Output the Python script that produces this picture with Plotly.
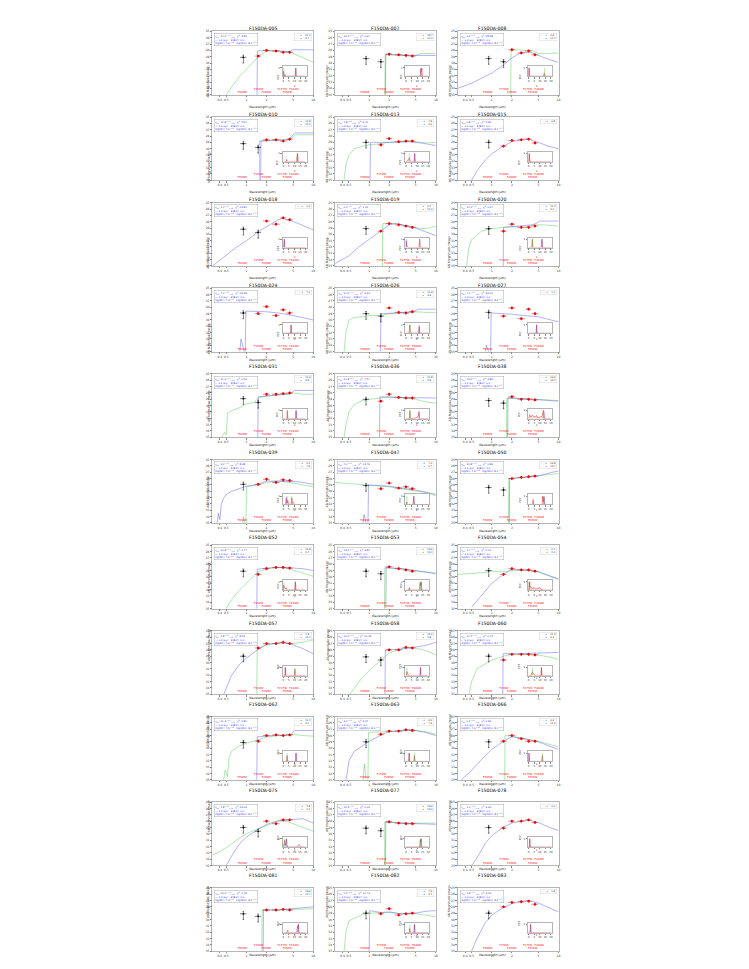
import math
import plotly.graph_objects as go

FIG_W, FIG_H = 749, 969

# ---- data ------------------------------------------------------------------
panel_ids = ['005', '007', '008', '010', '013', '015', '018', '019', '020', '024', '026',
             '027', '031', '036', '038', '039', '047', '050', '052', '053', '054', '057',
             '058', '060', '062', '063', '066', '075', '077', '078', '081', '082', '083']

z_blue = [11.2, 13.4, 0.6, 12.8, 7.8, 0.8, 1.0, 0.2, 12.2, 7.0, 11.9, 7.1, 11.6, 11.8, 13.6, 3.2,
          7.0, 13.8, 10.8, 13.6, 0.7, 1.8, 13.0, 11.5, 11.4, 3.0, 0.3, 2.8, 13.6, 1.0, 13.6, 7.6, 1.8]
z_green = [0.4, 14.0, 14.4, 12.4, 3.0, None, None, 12.3, 3.4, None, 3.6, None, 3.8, 3.8, 13.2, 7.6,
           0.7, 13.7, 0.4, 13.2, 2.0, 10.4, 0.8, 3.3, 3.4, 7.6, 12.3, 1.2, 13.0, None, 12.7, 3.4, None]
chi2 = [3.85, 0.67, 18.58, 5.97, 9.70, 3.95, 24.82, 1.06, 0.67, 24.18, 4.43, 33.11, 0.50, 7.57, 3.89,
        8.38, 13.79, 0.89, 0.77, 3.82, 2.11, 8.53, 11.43, 0.75, 6.80, 6.97, 0.99, 14.06, 1.06, 4.46,
        0.78, 11.73, 3.30]

# filters: F090W F150W F200W F277W F356W F444W
filter_names = ['F090W', 'F150W', 'F200W', 'F277W', 'F356W', 'F444W']
filter_wave = [0.90, 1.50, 2.00, 2.77, 3.56, 4.44]
filter_halfwidth = [0.10, 0.16, 0.23, 0.35, 0.39, 0.50]
filter_label_x = [0.87, 1.53, 1.99, 3.44, 4.10, 5.15]

# black points (F090W, F150W), None = not shown in black
black_mag = [[29.1, None], [29.3, 29.8], [29.3, 29.8], [29.2, 29.8], [29.0, None], [29.0, None],
             [29.2, 29.7], [29.1, None], [29.1, None], [28.9, None], [29.0, 29.4], [28.8, None],
             [28.9, 29.5], [29.0, None], [29.2, 29.6], [28.9, None], [29.1, None], [29.4, 29.8],
             [29.1, None], [29.1, 29.5], [29.0, None], [29.0, None], [29.1, 29.6], [29.0, None],
             [29.1, None], [29.0, None], [29.0, None], [29.0, 29.6], [29.1, 29.5], [29.0, None],
             [29.1, 29.5], [29.0, None], [29.0, None]]

# red points (F150W, F200W, F277W, F356W, F444W)
red_mag = [[28.9, 28.0, 28.1, 28.3, 28.3], [None, 28.6, 28.7, 28.8, 28.9],
           [None, 27.9, 28.4, 28.1, 28.7], [None, 28.6, 28.6, 28.8, 28.5],
           [29.4, 28.4, 28.9, 28.8, 28.8], [29.6, 28.7, 28.6, 28.5, 29.1],
           [None, 27.9, 28.4, 27.4, 27.7], [29.5, 28.3, 28.5, 28.7, 28.9],
           [29.5, 28.4, 28.9, 28.9, 28.7], [29.0, 27.9, 29.3, 28.4, 28.9],
           [None, 28.1, 28.8, 28.9, 28.7], [29.4, 28.1, 29.8, 28.3, 29.0],
           [None, 28.2, 28.2, 28.1, 28.0], [29.3, 28.2, 28.7, 28.8, 28.8],
           [None, 28.6, 29.0, 29.0, 29.1], [28.9, 28.1, 28.6, 28.2, 28.3],
           [29.6, 28.7, 29.5, 29.3, 29.6], [None, 28.0, 27.8, 27.7, 27.6],
           [29.6, 28.7, 28.5, 28.5, 28.6], [None, 28.4, 28.7, 28.9, 29.1],
           [29.6, 28.7, 28.9, 28.9, 29.1], [27.7, 27.0, 27.0, 26.8, 27.0],
           [None, 28.0, 28.0, 27.6, 27.7], [29.6, 28.7, 28.7, 28.7, 28.8],
           [28.9, 28.0, 27.9, 28.0, 27.9], [27.8, 27.3, 27.3, 27.1, 27.2],
           [28.9, 28.0, 28.5, 28.9, 28.9], [None, 28.0, 28.4, 27.8, 27.8],
           [None, 28.1, 28.3, 28.4, 28.4], [29.1, 28.0, 28.0, 27.8, 28.2],
           [None, 28.5, 28.5, 28.4, 28.5], [29.1, 28.3, 29.3, 29.1, 29.0],
           [28.0, 27.3, 27.2, 27.1, 27.6]]

# blue best-fit SED (wavelength um, AB mag)
blue_x = [[1.44, 1.46, 2.0, 3.0, 4.5, 4.8, 5.2, 10],
          [1.76, 1.78, 3, 5, 10],
          [0.31, 0.5, 0.7, 1.0, 1.5, 2.0, 2.5, 3.0, 4.0, 5.0, 7.0, 10],
          [1.63, 1.65, 2.5, 4.3, 5.3, 10],
          [1.03, 1.05, 2, 3, 4, 6, 10],
          [0.5, 0.6, 0.8, 1.0, 1.5, 2, 3, 3.5, 5, 7, 10],
          [0.31, 0.5, 0.7, 1.0, 1.5, 2.0, 3.0, 3.5, 4.5, 6, 8, 10],
          [0.31, 0.5, 0.7, 1.0, 1.5, 2.0, 2.5, 3.5, 5, 7, 10],
          [1.48, 1.5, 2.5, 4.0, 4.6, 5.2, 10],
          [0.78, 0.83, 0.9, 0.96, 0.98, 1.5, 2, 3, 5, 10],
          [1.48, 1.5, 2.5, 4.5, 5.5, 10],
          [0.78, 0.83, 0.9, 0.96, 0.98, 1.5, 2, 3, 5, 10],
          [1.48, 1.5, 2.5, 4.0, 4.6, 5.3, 10],
          [1.43, 1.45, 2.5, 5, 10],
          [1.73, 1.75, 3, 5, 10],
          [0.36, 0.38, 0.4, 0.42, 0.45, 0.5, 0.6, 0.8, 1.0, 1.5, 2, 3, 4, 6, 10],
          [0.79, 0.84, 0.9, 0.96, 0.98, 1.5, 2, 3, 5, 10],
          [1.83, 1.85, 3, 5, 8, 10],
          [1.43, 1.45, 2, 3, 5, 7, 10],
          [1.78, 1.8, 3, 5, 10],
          [0.5, 0.7, 1.0, 1.5, 2, 3, 4, 5, 7, 10],
          [0.45, 0.5, 0.6, 0.8, 1.0, 1.5, 2, 3, 4, 5, 7, 10],
          [1.73, 1.75, 3, 4, 5, 7, 10],
          [1.46, 1.48, 2.5, 5, 10],
          [1.43, 1.45, 2.5, 4.6, 5.3, 10],
          [0.45, 0.5, 0.6, 0.8, 1.0, 1.3, 1.5, 2, 3, 4, 5, 7, 10],
          [0.35, 0.5, 0.7, 1.0, 1.5, 2, 3, 4, 5, 7, 10],
          [0.5, 0.6, 0.8, 1.0, 1.5, 2, 3, 4, 5, 7, 10],
          [1.76, 1.78, 3, 5, 10],
          [0.5, 0.6, 0.8, 1.0, 1.5, 2, 3, 3.5, 5, 7, 10],
          [1.78, 1.8, 3, 5, 10],
          [1.0, 1.02, 1.5, 2, 3, 4, 5, 7, 10],
          [0.5, 0.6, 0.8, 1.0, 1.5, 2, 3, 3.5, 5, 7, 10]]
blue_y = [[36, 28.1, 28.0, 28.1, 28.2, 27.9, 27.9, 27.9],
          [36, 28.6, 28.7, 28.8, 28.8],
          [34.0, 33.2, 32.4, 31.6, 30.3, 29.2, 28.6, 28.3, 28.4, 28.8, 29.4, 29.9],
          [36, 28.8, 28.7, 28.6, 27.5, 27.5],
          [36, 29.0, 29.0, 29.0, 28.9, 29.1, 29.5],
          [35.0, 33.5, 31.8, 30.8, 29.6, 28.9, 28.5, 28.5, 29.0, 29.6, 30.0],
          [35.0, 33.3, 32.1, 31.0, 29.6, 28.8, 27.7, 27.5, 27.8, 28.3, 28.9, 29.3],
          [34.6, 33.4, 32.0, 30.8, 29.5, 28.5, 28.3, 28.6, 29.0, 29.6, 30.2],
          [36, 28.9, 28.7, 28.5, 28.3, 27.9, 27.9],
          [36, 33.0, 34.5, 35.5, 28.6, 28.6, 28.7, 28.9, 29.3, 30.0],
          [36, 29.0, 28.9, 28.7, 28.3, 28.3],
          [36, 34.0, 35.0, 35.5, 28.9, 29.0, 29.1, 29.3, 29.5, 30.3],
          [36, 28.6, 28.4, 28.2, 28.1, 27.6, 27.6],
          [36, 28.6, 28.7, 28.8, 28.8],
          [36, 28.8, 28.9, 29.1, 29.3],
          [35.5, 33.5, 34.5, 32.0, 31.2, 30.5, 30.0, 29.5, 29.2, 28.9, 28.4, 28.4, 28.4, 28.5, 28.9],
          [36, 33.7, 35.0, 36, 29.0, 29.1, 29.2, 29.5, 29.8, 30.5],
          [36, 28.0, 27.8, 27.6, 27.0, 26.8],
          [36, 28.8, 28.6, 28.5, 28.6, 28.7, 29.0],
          [36, 28.5, 28.7, 29.0, 29.5],
          [34.8, 33.0, 31.0, 29.6, 28.8, 28.9, 29.0, 29.2, 29.8, 30.4],
          [35.2, 34.0, 32.0, 30.2, 29.3, 27.9, 27.2, 26.9, 26.9, 27.2, 27.8, 28.6],
          [36, 28.0, 27.9, 27.7, 27.6, 27.3, 26.8],
          [36, 28.6, 28.6, 28.5, 28.4],
          [36, 28.2, 28.0, 27.9, 27.2, 27.2],
          [35.2, 32.0, 30.5, 29.6, 28.9, 28.3, 27.9, 27.4, 27.2, 27.1, 27.2, 27.5, 28.0],
          [35.0, 33.5, 31.8, 30.2, 28.9, 28.2, 28.5, 28.8, 29.0, 29.6, 30.2],
          [35.0, 33.5, 31.5, 30.5, 29.3, 28.5, 27.9, 27.8, 27.8, 27.6, 28.3],
          [36, 28.1, 28.3, 28.4, 28.5],
          [35.0, 33.8, 31.5, 30.3, 28.9, 28.3, 27.9, 27.8, 28.2, 28.9, 29.5],
          [36, 28.5, 28.5, 28.3, 28.0],
          [36, 28.6, 28.9, 28.8, 29.1, 29.0, 29.0, 28.7, 28.6],
          [35.0, 33.0, 30.5, 29.3, 28.1, 27.5, 27.1, 27.0, 27.4, 28.1, 28.8]]

# green alternative SED
green_x = [[0.48, 0.6, 0.8, 1.0, 1.3, 1.6, 2.0, 3.0, 4.5, 6, 8, 10],
           [1.72, 1.74, 3, 5, 6, 10],
           [1.92, 1.95, 2.5, 3.0, 4.0, 5.0, 6.0, 10],
           [1.56, 1.58, 2.5, 4.4, 5.5, 10],
           [0.42, 0.45, 0.5, 0.6, 0.8, 1.0, 1.5, 2, 3, 4, 5, 7, 10],
           [],
           [],
           [1.58, 1.6, 2.5, 4, 6, 8, 10],
           [0.42, 0.45, 0.5, 0.55, 0.7, 1.0, 1.5, 2.0, 3.0, 4.5, 6, 10],
           [],
           [0.42, 0.45, 0.5, 0.6, 0.8, 1.0, 1.5, 2, 3, 5, 7, 10],
           [],
           [0.42, 0.47, 0.5, 0.52, 0.6, 0.8, 1.0, 1.3, 1.5, 2, 3, 4, 5, 7, 10],
           [0.42, 0.45, 0.5, 0.6, 0.8, 1.0, 1.5, 2, 3, 5, 7, 10],
           [1.66, 1.68, 3, 5, 10],
           [0.86, 0.9, 0.95, 0.98, 1.0, 1.5, 2, 3, 5, 7, 10],
           [0.31, 0.5, 1, 2, 3, 5, 7, 10],
           [1.78, 1.8, 3, 5, 8, 10],
           [0.48, 0.6, 0.8, 1.0, 1.3, 1.5, 2, 3, 4, 5, 7, 10],
           [1.70, 1.72, 3, 5, 10],
           [0.31, 0.5, 0.8, 1.0, 1.5, 2, 3, 5, 7, 10],
           [1.43, 1.45, 2, 3, 5, 7, 10],
           [0.5, 0.6, 0.8, 1.0, 1.5, 2, 3, 4, 5, 7, 10],
           [0.45, 0.5, 0.6, 0.8, 1.0, 1.5, 2, 3, 5, 7, 10],
           [0.45, 0.48, 0.52, 0.55, 0.6, 0.8, 1.0, 1.5, 2, 3, 5, 7, 10],
           [0.8, 0.85, 0.9, 0.96, 0.98, 1.5, 2, 3, 4, 5, 7, 10],
           [1.56, 1.58, 2, 3, 5, 10],
           [0.31, 0.5, 0.8, 1.0, 1.5, 2, 3, 4, 5, 7, 10],
           [1.70, 1.72, 3, 5, 10],
           [],
           [1.70, 1.72, 3, 5, 10],
           [0.42, 0.45, 0.5, 0.6, 0.8, 1.0, 1.5, 2, 3, 5, 7, 10],
           []]
green_y = [[35.2, 33.8, 32.0, 31.0, 29.8, 28.7, 28.1, 28.1, 28.3, 28.8, 29.4, 29.9],
           [36, 28.7, 28.8, 28.8, 28.5, 28.5],
           [36, 27.9, 27.9, 28.0, 28.0, 28.5, 28.5, 28.4],
           [36, 28.8, 28.6, 28.6, 27.8, 27.8],
           [35.2, 32.5, 31.0, 30.0, 29.6, 29.4, 29.2, 29.0, 28.9, 28.8, 28.9, 29.1, 29.0],
           [],
           [],
           [36, 28.3, 28.3, 28.7, 29.1, 29.0, 28.7],
           [35.2, 32.3, 30.8, 30.5, 29.5, 29.1, 28.9, 28.8, 28.9, 28.5, 28.5, 28.7],
           [],
           [35.2, 32.0, 30.0, 29.6, 29.5, 29.3, 29.3, 29.0, 28.9, 28.7, 28.8, 28.8],
           [],
           [35.2, 34.2, 34.6, 31.2, 30.8, 30.3, 29.7, 29.5, 28.8, 28.5, 28.3, 28.2, 28.0, 28.2, 28.2],
           [35.2, 33.0, 31.0, 29.8, 29.2, 29.0, 28.8, 28.6, 28.7, 29.0, 29.4, 29.6],
           [36, 28.8, 28.9, 29.0, 29.2],
           [36, 34.0, 35.5, 36, 29.3, 29.0, 28.6, 28.4, 28.7, 29.0, 29.3],
           [28.6, 28.8, 29.0, 29.3, 29.6, 30.0, 30.2, 30.7],
           [36, 28.0, 27.8, 27.6, 27.3, 27.2],
           [35.2, 33.6, 32.0, 31.0, 29.8, 29.2, 28.7, 28.5, 28.6, 28.9, 29.3, 29.9],
           [36, 28.6, 28.7, 29.0, 29.4],
           [29.6, 29.5, 29.3, 29.1, 29.2, 29.0, 28.9, 29.2, 29.7, 30.3],
           [36, 27.9, 27.1, 26.9, 27.0, 26.8, 26.4],
           [35.2, 34.0, 32.3, 31.3, 29.6, 28.5, 27.8, 27.6, 27.7, 28.1, 28.8],
           [35.2, 33.0, 31.0, 30.2, 29.6, 29.0, 28.7, 28.7, 28.8, 29.1, 29.5],
           [35.3, 33.5, 34.5, 31.5, 30.5, 29.6, 29.2, 28.7, 28.2, 28.0, 27.8, 28.0, 28.1],
           [36, 32.5, 35.0, 36, 27.5, 27.4, 27.3, 27.3, 27.1, 27.2, 27.4, 27.8],
           [36, 28.0, 28.1, 28.5, 28.9, 29.8],
           [33.4, 32.2, 30.6, 30.0, 29.2, 28.7, 28.0, 28.0, 28.4, 28.9, 29.6],
           [36, 28.1, 28.3, 28.3, 28.3],
           [],
           [36, 28.5, 28.5, 28.4, 28.3],
           [35.2, 32.0, 30.2, 29.8, 29.2, 29.0, 28.9, 28.9, 29.1, 29.1, 29.3, 29.6],
           []]

# photo-z probability (inset)
pdf_z = [[0, 0.15, 0.35, 0.6, 1.2, 1.5, 1.8, 10.7, 11.2, 11.7, 20],
         [0, 12.6, 13.3, 13.8, 14.2, 14.8, 20],
         [0, 0.3, 0.7, 1.2, 13.3, 14.0, 14.7, 20],
         [0, 2.5, 3.0, 3.5, 11.8, 12.4, 12.8, 13.4, 20],
         [0, 1.5, 2.5, 3.0, 3.6, 4.5, 7.2, 7.8, 8.4, 20],
         [0, 0.5, 1.1, 1.8, 2.3, 20],
         [0, 0.4, 0.8, 1.2, 4.5, 5, 5.5, 20],
         [0, 0.2, 0.6, 1.5, 2.5, 11.7, 12.3, 12.9, 20],
         [0, 2.8, 3.3, 3.8, 11.2, 11.8, 12.4, 20],
         [0, 6.5, 7.0, 7.5, 20],
         [0, 2.9, 3.4, 3.9, 5, 11.3, 11.9, 12.5, 20],
         [0, 6.6, 7.1, 7.6, 20],
         [0, 3.2, 3.6, 4.0, 10.8, 11.4, 11.8, 12.3, 20],
         [0, 3.0, 3.5, 4.0, 9, 10, 11.0, 11.6, 12.2, 20],
         [0, 1.0, 2, 3, 4.5, 6, 7, 8, 12, 12.6, 13.2, 13.7, 14.3, 20],
         [0, 2, 2.6, 3.2, 4, 4.6, 5.5, 7, 7.6, 8.2, 9, 10, 20],
         [0, 0.4, 0.7, 1.0, 6.4, 7.0, 7.6, 20],
         [0, 3.5, 4, 4.5, 12, 12.6, 13.2, 13.8, 14.4, 20],
         [0, 0.4, 1, 2, 2.5, 3, 4, 10.2, 10.8, 11.4, 20],
         [0, 2.5, 3, 3.5, 12, 12.6, 13.1, 13.6, 14.2, 20],
         [0, 0.5, 1, 2, 3, 5, 6, 8, 10, 11, 13, 20],
         [0, 1.3, 1.8, 2.3, 9.9, 10.4, 10.9, 20],
         [0, 0.3, 0.8, 1.3, 2, 2.5, 12.4, 13, 13.6, 20],
         [0, 2, 2.8, 3.3, 3.8, 5, 6, 10.9, 11.5, 12.1, 20],
         [0, 2.9, 3.4, 3.9, 10.8, 11.4, 12.0, 20],
         [0, 2.3, 2.8, 3.3, 7, 7.6, 8.2, 20],
         [0, 0.3, 0.8, 11.8, 12.3, 12.8, 20],
         [0, 1.2, 1.8, 2.8, 3.5, 4, 12, 13, 14, 15, 16, 20],
         [0, 12.2, 12.8, 13.2, 13.6, 14.2, 20],
         [0, 0.5, 1.0, 1.5, 20],
         [0, 3.5, 4, 4.5, 12, 12.7, 13.2, 13.6, 14.2, 20],
         [0, 2.9, 3.4, 3.9, 7.0, 7.6, 8.2, 20],
         [0, 1.2, 1.7, 2.2, 20]]
pdf_p = [[0, 0.3, 0.6, 0, 0, 0.2, 0, 0, 1, 0, 0],
         [0, 0, 0.9, 0.6, 1.0, 0, 0],
         [0, 1.0, 0.1, 0, 0, 0.4, 0, 0],
         [0, 0, 0.3, 0, 0, 0.8, 1.0, 0, 0],
         [0, 0.1, 0.4, 0.5, 0.2, 0, 0, 1.0, 0, 0],
         [0, 1.0, 0.05, 0.1, 0, 0],
         [0, 0.2, 1.0, 0, 0, 0.05, 0, 0],
         [0, 0.8, 0.3, 0.1, 0, 0, 1.0, 0, 0],
         [0, 0, 1.0, 0, 0, 1.0, 0, 0],
         [0, 0, 1.0, 0, 0],
         [0, 0, 1.0, 0.2, 0, 0, 0.8, 0, 0],
         [0, 0, 1.0, 0, 0],
         [0, 0, 1.0, 0, 0, 1.0, 0.4, 0, 0],
         [0, 0, 1.0, 0, 0.1, 0.2, 0.3, 0.8, 0, 0],
         [0, 0.5, 0.2, 0.4, 0.3, 0.2, 0.4, 0.1, 0.3, 0.9, 1.0, 0.7, 0, 0],
         [0, 0, 0.8, 0.2, 0.5, 0.1, 0, 0, 0.8, 0.2, 0.3, 0, 0],
         [0, 0, 0.3, 0, 0, 1.0, 0, 0],
         [0, 0, 0.6, 0, 0, 1.0, 0.3, 0.9, 0, 0],
         [0, 0.6, 0.3, 0.2, 0.3, 0.1, 0, 0, 1.0, 0, 0],
         [0, 0, 0.3, 0, 0, 0.9, 0.5, 1.0, 0, 0],
         [0, 1.0, 0.4, 0.4, 0.2, 0.3, 0.1, 0.2, 0.3, 0.1, 0, 0],
         [0, 0, 1.0, 0, 0, 0.8, 0, 0],
         [0, 0, 0.5, 0.2, 0.1, 0, 0, 1.0, 0, 0],
         [0, 0, 0.3, 0.5, 0.3, 0.2, 0, 0, 1.0, 0, 0],
         [0, 0, 0.7, 0, 0, 1.0, 0, 0],
         [0, 0, 1.0, 0, 0, 0.7, 0, 0],
         [0, 1.0, 0, 0, 0.7, 0, 0],
         [0, 0.8, 0.2, 1.0, 0.1, 0, 0, 0.2, 0.3, 0.2, 0, 0],
         [0, 0, 0.9, 0.6, 1.0, 0, 0],
         [0, 0, 1.0, 0, 0],
         [0, 0, 0.3, 0, 0, 0.8, 0.5, 1.0, 0, 0],
         [0, 0, 0.5, 0, 0, 1.0, 0, 0],
         [0, 0, 1.0, 0, 0]]

# ---- layout in pixels ------------------------------------------------------
COL_LEFT = [205, 328, 451]
AX_W, AX_H = 101, 63.5
ROW_TOP0, ROW_STEP = 21.5, 86.0
FONT = 'DejaVu Sans'
BLUE = 'rgba(70,70,255,0.6)'
GREEN = 'rgba(60,200,60,0.6)'
FRAME = '#b5b5b5'


def fx(p):
    return p / FIG_W


def fy(p):
    return 1 - p / FIG_H


def axkey(kind, k):
    return kind if k == 1 else f'{kind}{k}'


fig = go.Figure()
axes = {}
ann = []
shapes = []

for i, pid in enumerate(panel_ids):
    row, col = divmod(i, 3)
    left = COL_LEFT[col]
    top = ROW_TOP0 + row * ROW_STEP
    km, ki = 2 * i + 1, 2 * i + 2
    xm, ym = axkey('x', km), axkey('y', km)
    xi, yi = axkey('x', ki), axkey('y', ki)

    axis_style = dict(showline=True, mirror=True, linecolor=FRAME, linewidth=0.7,
                      ticks='outside', ticklen=1.5, tickwidth=0.5, tickcolor='#888',
                      showgrid=False, zeroline=False, tickangle=0,
                      tickfont=dict(size=3.0, color='#333', family=FONT))
    axes[axkey('xaxis', km)] = dict(axis_style, domain=[fx(left), fx(left + AX_W)], anchor=ym,
                                    type='log', range=[math.log10(0.31), 1.0],
                                    tickvals=[0.4, 0.5, 1, 2, 5, 10],
                                    ticktext=['0.4', '0.5', '1', '2', '5', '10'])
    axes[axkey('yaxis', km)] = dict(axis_style, domain=[fy(top + AX_H), fy(top)], anchor=xm,
                                    range=[35, 25], tickvals=list(range(25, 36)))
    ix0, ix1 = left + 70.5, left + 94.5
    iy0, iy1 = top + 35, top + 45
    inset_style = dict(axis_style, tickfont=dict(size=2.6, color='#333', family=FONT))
    axes[axkey('xaxis', ki)] = dict(inset_style, domain=[fx(ix0), fx(ix1)], anchor=yi,
                                    range=[-0.5, 21], tickvals=[0, 5, 10, 15, 20])
    axes[axkey('yaxis', ki)] = dict(inset_style, domain=[fy(iy1), fy(iy0)], anchor=xi,
                                    range=[0, 1.2], tickvals=[1])

    # model SEDs
    if green_x[i]:
        fig.add_trace(go.Scatter(x=green_x[i], y=green_y[i], mode='lines',
                                 line=dict(color=GREEN, width=0.7), xaxis=xm, yaxis=ym,
                                 showlegend=False, hoverinfo='skip'))
    fig.add_trace(go.Scatter(x=blue_x[i], y=blue_y[i], mode='lines',
                             line=dict(color=BLUE, width=0.7), xaxis=xm, yaxis=ym,
                             showlegend=False, hoverinfo='skip'))

    # black photometry
    bx = [filter_wave[j] for j in range(2) if black_mag[i][j] is not None]
    by = [m for m in black_mag[i] if m is not None]
    bw = [filter_halfwidth[j] for j in range(2) if black_mag[i][j] is not None]
    fig.add_trace(go.Scatter(x=bx, y=by, mode='markers',
                             marker=dict(color='black', size=1.8),
                             error_x=dict(type='data', array=bw, color='black', thickness=0.5, width=0),
                             error_y=dict(type='data', array=[0.9] * len(by), arrayminus=[0.35] * len(by),
                                          color='black', thickness=0.5, width=0.8),
                             xaxis=xm, yaxis=ym, showlegend=False, hoverinfo='skip'))

    # red photometry
    rx = [filter_wave[j + 1] for j in range(5) if red_mag[i][j] is not None]
    ry = [m for m in red_mag[i] if m is not None]
    rw = [filter_halfwidth[j + 1] for j in range(5) if red_mag[i][j] is not None]
    fig.add_trace(go.Scatter(x=rx, y=ry, mode='markers',
                             marker=dict(color='red', size=2.3, line=dict(color='darkred', width=0.2)),
                             error_x=dict(type='data', array=rw, color='red', thickness=0.5, width=0),
                             error_y=dict(type='data', array=[0.15] * len(ry), color='red',
                                          thickness=0.5, width=0.6),
                             xaxis=xm, yaxis=ym, showlegend=False, hoverinfo='skip'))

    # filter labels
    fig.add_trace(go.Scatter(x=filter_label_x, y=[34.6, 34.1, 34.6, 34.1, 34.6, 34.1],
                             mode='text', text=filter_names,
                             textfont=dict(size=2.7, color='red', family=FONT),
                             xaxis=xm, yaxis=ym, showlegend=False, hoverinfo='skip'))

    # inset PDF
    fig.add_trace(go.Scatter(x=pdf_z[i], y=pdf_p[i], mode='lines',
                             line=dict(color='rgba(230,0,0,0.85)', width=0.5),
                             fill='tozeroy', fillcolor='rgba(255,0,0,0.12)',
                             xaxis=xi, yaxis=yi, showlegend=False, hoverinfo='skip'))
    shapes.append(dict(type='line', xref=xi, yref=f'{yi} domain', x0=z_blue[i], x1=z_blue[i],
                       y0=0, y1=0.83, line=dict(color=BLUE, width=0.7)))
    if z_green[i] is not None:
        shapes.append(dict(type='line', xref=xi, yref=f'{yi} domain', x0=z_green[i], x1=z_green[i],
                           y0=0, y1=0.83, line=dict(color=GREEN, width=0.7)))

    # texts
    ann.append(dict(x=fx(left + AX_W / 2), y=fy(top - 7.5), xref='paper', yref='paper',
                    text=f'F150DA-{pid}', showarrow=False,
                    font=dict(size=4.6, color='black', family=FONT)))
    ann.append(dict(x=fx(left + AX_W / 2), y=fy(top + AX_H + 8), xref='paper', yref='paper',
                    text='Wavelength (µm)', showarrow=False,
                    font=dict(size=3.1, color='#222', family=FONT)))
    ann.append(dict(x=fx(left - 8), y=fy(top + AX_H / 2), xref='paper', yref='paper',
                    text='AB Magnitude (mag)', showarrow=False, textangle=-90,
                    font=dict(size=3.1, color='#222', family=FONT)))
    info = (f'z<sub>ph</sub>: {z_blue[i]:.1f}<sup>+0.3</sup><sub>−0.4</sub>   '
            f'χ<sup>2</sup>: {chi2[i]:.2f}<br>'
            f'τ: 0.3 Gyr    E(B-V): 0.0<br>'
            f'log(M<sub>*</sub>): 7.6<sup>+0.2</sup>   log(M/L): 8.1<sup>+0.1</sup>')
    ann.append(dict(x=fx(left + 2), y=fy(top + 1.8), xref='paper', yref='paper',
                    xanchor='left', yanchor='top', align='left', text=info, showarrow=False,
                    bgcolor='white', bordercolor='#aaaaaa', borderwidth=0.5, borderpad=0.8,
                    font=dict(size=2.5, color='#3030ff', family=FONT)))
    leg = f"<span style='color:{BLUE}'>——</span> z = {z_blue[i]:.1f}"
    if z_green[i] is not None:
        leg += f"<br><span style='color:{GREEN}'>——</span> z = {z_green[i]:.1f}"
    ann.append(dict(x=fx(left + AX_W - 1.5), y=fy(top + 1.5), xref='paper', yref='paper',
                    xanchor='right', yanchor='top', align='left', text=leg, showarrow=False,
                    bgcolor='white', bordercolor='#cccccc', borderwidth=0.4, borderpad=0.6,
                    font=dict(size=2.4, color='#333', family=FONT)))
    ann.append(dict(x=fx(ix0 - 4.5), y=fy((iy0 + iy1) / 2), xref='paper', yref='paper',
                    text='PDF', showarrow=False, textangle=-90,
                    font=dict(size=2.6, color='#222', family=FONT)))
    ann.append(dict(x=fx((ix0 + ix1) / 2), y=fy(iy1 + 6.5), xref='paper', yref='paper',
                    text='z', showarrow=False,
                    font=dict(size=2.6, color='#222', family=FONT)))

fig.update_layout(width=FIG_W, height=FIG_H, margin=dict(l=0, r=0, t=0, b=0),
                  paper_bgcolor='white', plot_bgcolor='white', showlegend=False,
                  font=dict(family=FONT), annotations=ann, shapes=shapes, **axes)

fig.write_html('out.html')
